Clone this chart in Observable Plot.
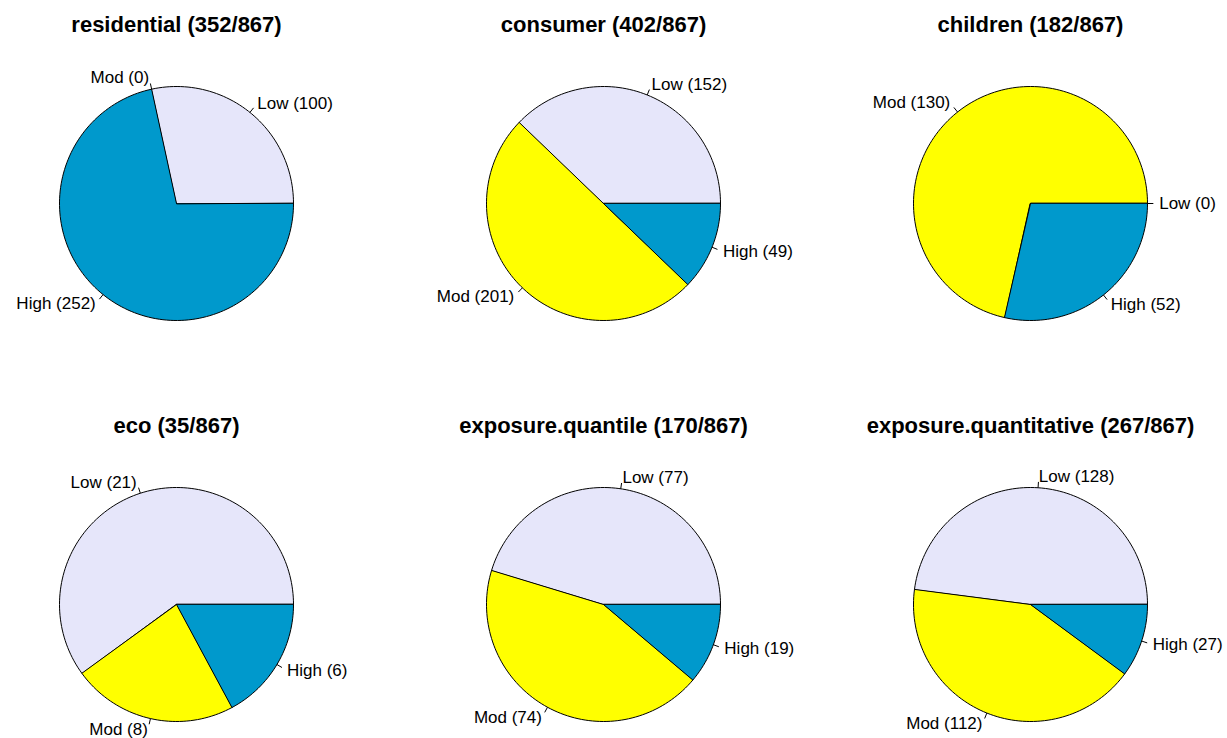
<!DOCTYPE html>
<html><head><meta charset="utf-8">
<script src="https://cdn.jsdelivr.net/npm/d3@7"></script>
<script src="https://cdn.jsdelivr.net/npm/@observablehq/plot@0.6"></script>
<style>body{margin:0;background:#fff} svg{font-family:"Liberation Sans",Arial,sans-serif}</style>
</head><body><div id="chart"></div>
<script>
// ---- data ----
const panels = ["residential", "consumer", "children", "eco", "exposure.quantile", "exposure.quantitative"];
const grandTotal = 867;
const categories = ["Low", "Mod", "High"];
const lowCounts  = [100, 152, 0, 21, 77, 128];
const modCounts  = [0, 201, 130, 8, 74, 112];
const highCounts = [252, 49, 52, 6, 19, 27];
const sliceColors = ["#E6E6FA", "#FFFF00", "#0099CC"];

// ---- derived geometry (from data) ----
const polys = [], labels = [], titles = [];
panels.forEach((name, i) => {
  const col = i % 3, row = Math.floor(i / 3);
  const counts = [lowCounts[i], modCounts[i], highCounts[i]];
  const total = d3.sum(counts);
  titles.push({col, row, text: `${name} (${total}/${grandTotal})`});
  let cum = 0;
  counts.forEach((v, k) => {
    const a0 = 2 * Math.PI * cum / total;
    cum += v;
    const a1 = 2 * Math.PI * cum / total;
    const key = name + "-" + categories[k];
    if (v > 0) {
      polys.push({key, cat: categories[k], col, row, x: 0, y: 0});
      const n = Math.max(2, Math.ceil(200 * (a1 - a0) / (2 * Math.PI)));
      for (let j = 0; j <= n; j++) {
        const a = a0 + (a1 - a0) * j / n;
        polys.push({key, cat: categories[k], col, row, x: Math.cos(a), y: Math.sin(a)});
      }
    }
    const am = (a0 + a1) / 2;
    labels.push({col, row, c: Math.cos(am), s: Math.sin(am), text: `${categories[k]} (${v})`});
  });
});

const R = 130 / 117;
const chart = Plot.plot({
  width: 1227, height: 738,
  marginLeft: 46, marginRight: 67, marginTop: 73, marginBottom: 4,
  fx: {domain: [0, 1, 2], paddingInner: 167 / 427, paddingOuter: 0, axis: null},
  fy: {domain: [0, 1], paddingInner: 141 / 401, paddingOuter: 0, axis: null},
  x: {domain: [-R, R], axis: null},
  y: {domain: [-R, R], axis: null},
  color: {domain: categories, range: sliceColors},
  style: {fontFamily: '"Liberation Sans", Arial, sans-serif', background: "#fff"},
  marks: [
    Plot.line(polys, {x: "x", y: "y", z: "key", fill: "cat", stroke: "black", strokeWidth: 1, curve: "linear-closed", fx: "col", fy: "row"}),
    Plot.link(labels, {x1: d => d.c, y1: d => d.s, x2: d => 1.05 * d.c, y2: d => 1.05 * d.s, stroke: "black", strokeWidth: 1, fx: "col", fy: "row"}),
    Plot.text(labels.filter(d => d.c >= 0), {x: d => 1.1 * d.c, y: d => 1.1 * d.s, text: "text", textAnchor: "start", fontSize: 17, fill: "black", fx: "col", fy: "row"}),
    Plot.text(labels.filter(d => d.c < 0), {x: d => 1.1 * d.c, y: d => 1.1 * d.s, text: "text", textAnchor: "end", fontSize: 17, fill: "black", fx: "col", fy: "row"}),
    Plot.text(titles, {text: "text", frameAnchor: "top", dy: -57, fontSize: 22, fontWeight: "bold", fill: "black", fx: "col", fy: "row"})
  ]
});
document.getElementById("chart").appendChild(chart);
</script>
</body></html>
